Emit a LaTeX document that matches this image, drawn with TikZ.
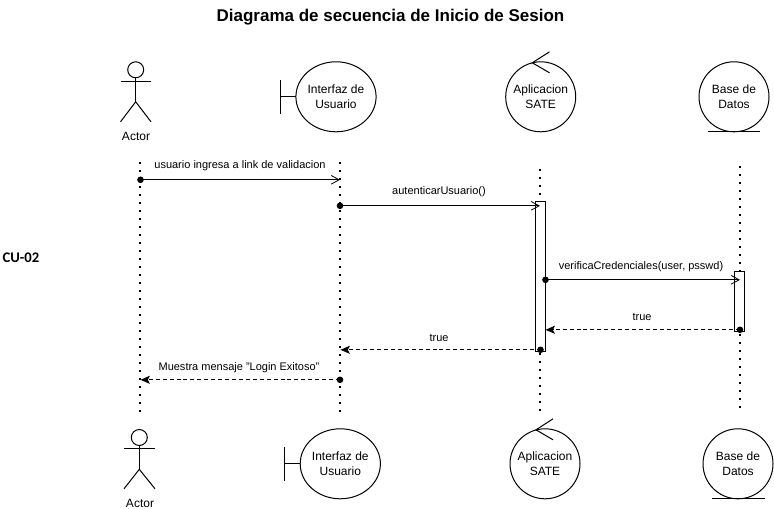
\documentclass[tikz,border=0pt]{standalone}
\usepackage{fontspec}
\setmainfont{Liberation Sans}
\newfontfamily\cufont{Carlito}
\usetikzlibrary{arrows.meta,shapes.geometric}
\tikzset{
  x=0.75pt,y=-0.75pt,
  every node/.style={inner sep=0pt,outer sep=0pt,align=center},
  ln/.style={draw=black,line width=0.75pt},
  lab/.style={font=\fontsize{9}{10.5}\selectfont},
  msg/.style={font=\fontsize{8.25}{9.5}\selectfont},
  rob/.style={ln,circle,minimum size=52.5pt,font=\fontsize{9}{11.25}\selectfont},
  bnd/.style={ln,ellipse,minimum width=58.5pt,minimum height=52.5pt,font=\fontsize{9}{11.25}\selectfont},
  life/.style={line width=1.5pt,dash pattern=on 1.5pt off 4.5pt},
  act/.style={ln,fill=white,minimum width=7.5pt,anchor=north},
  sync/.style={ln,-{Straight Barb[length=6pt,width=6.5pt,line width=0.6pt]}},
  replyo/.style={ln,dash pattern=on 3pt off 2.2pt,-{Stealth[length=7pt,width=6pt,inset=1.5pt]}},
  pt/.style={fill=black},
}
\begin{document}
\begin{tikzpicture}
\useasboundingbox (0,0) rectangle (774,509);
\fill[white] (0,0) rectangle (774,509);
\begin{scope}[yshift=-0.6pt]
\node[font=\bfseries\fontsize{12.75}{15}\selectfont] (title) at (390.5,16) {Diagrama de secuencia de Inicio de Sesion};
\node[font=\cufont\bfseries\fontsize{11}{13}\selectfont] (cu) at (21,257) {CU-02};

% lifelines
\coordinate (l1a) at (140,161); \coordinate (l1b) at (140,411);
\coordinate (l2a) at (340,161);   \coordinate (l2b) at (340,411);
\coordinate (l3a) at (540,168); \coordinate (l3b) at (540,411);
\coordinate (l4a) at (740,165);   \coordinate (l4b) at (740,411);
\draw[life] (l1a) -- (l1b);
\draw[life] (l2a) -- (l2b);
\draw[life] (l3a) -- (l3b);
\draw[life] (l4a) -- (l4b);

% top actor
\draw[ln] (135.7,69) circle (8);
\draw[ln] (120.5,81) -- (151,81);
\draw[ln] (135.7,77) -- (135.7,101);
\draw[ln] (120.5,121) -- (135.7,101) -- (151,121);
\node[lab] (a1) at (136,136) {Actor};
% bottom actor
\draw[ln] (139.3,436.7) circle (8);
\draw[ln] (124,448) -- (155,448);
\draw[ln] (139.3,444.7) -- (139.3,468.5);
\draw[ln] (124,488) -- (139.3,468.5) -- (155,488);
\node[lab] (a2) at (140,503) {Actor};

% top robustness
\node[bnd] (ui1) at (336,96) {Interfaz de\\Usuario};
\draw[ln] (280,79) -- (280,113);
\draw[ln] (280,96) -- (ui1.west);
\node[rob] (app1) at (540.7,96) {Aplicacion\\SATE};
\draw[ln] (549.5,51) -- (532.3,62) -- (549.5,72);
\node[rob] (db1) at (734,96) {Base de\\Datos};
\draw[ln] (708,131) -- (760,131);

% bottom robustness
\node[bnd] (ui2) at (340.3,463) {Interfaz de\\Usuario};
\draw[ln] (284.5,446) -- (284.5,480);
\draw[ln] (284.5,463) -- (ui2.west);
\node[rob] (app2) at (545,463) {Aplicacion\\SATE};
\draw[ln] (553,418) -- (536,429) -- (553,439);
\node[rob] (db2) at (738,463) {Base de\\Datos};
\draw[ln] (712,498) -- (765,498);

% activations
\node[act,minimum height=112.5pt] (A) at (540.2,201) {};
\node[act,minimum height=45pt] (B) at (739.8,271) {};

% messages
\coordinate (m1a) at (140.5,179); \coordinate (m1b) at (340,179);
\coordinate (m2a) at (340,205);   \coordinate (m2b) at (540,205);
\coordinate (m3a) at (545.5,279); \coordinate (m3b) at (740,279);
\coordinate (m4a) at (740,329);   \coordinate (m4b) at (545.5,329);
\coordinate (m5a) at (540.5,349); \coordinate (m5b) at (340.5,349);
\coordinate (m6a) at (340,379);   \coordinate (m6b) at (140.5,379);
\draw[sync] (m1a) -- (m1b);
\draw[sync] (m2a) -- (m2b);
\draw[sync] (m3a) -- (m3b);
\draw[replyo] (m4a) -- (m4b);
\draw[replyo] (m5a) -- (m5b);
\draw[replyo] (m6a) -- (m6b);
\fill[pt] (m1a) circle (3.3);
\fill[pt] (m2a) circle (3.3);
\fill[pt] (m3a) circle (3.3);
\fill[pt] (m4a) circle (3.3);
\fill[pt] (m5a) circle (3.3);
\fill[pt] (m6a) circle (3.3);
\node[msg] (t1) at (240,165) {usuario ingresa a link de validacion};
\node[msg] (t2) at (439,191) {autenticarUsuario()};
\node[msg] (t3) at (641,266) {verificaCredenciales(user, psswd)};
\node[msg] (t4) at (642,316) {true};
\node[msg] (t5) at (439,337) {true};
\node[msg] (t6) at (239,367) {Muestra mensaje \char34 Login Exitoso\char34};
\end{scope}
\end{tikzpicture}
\end{document}
